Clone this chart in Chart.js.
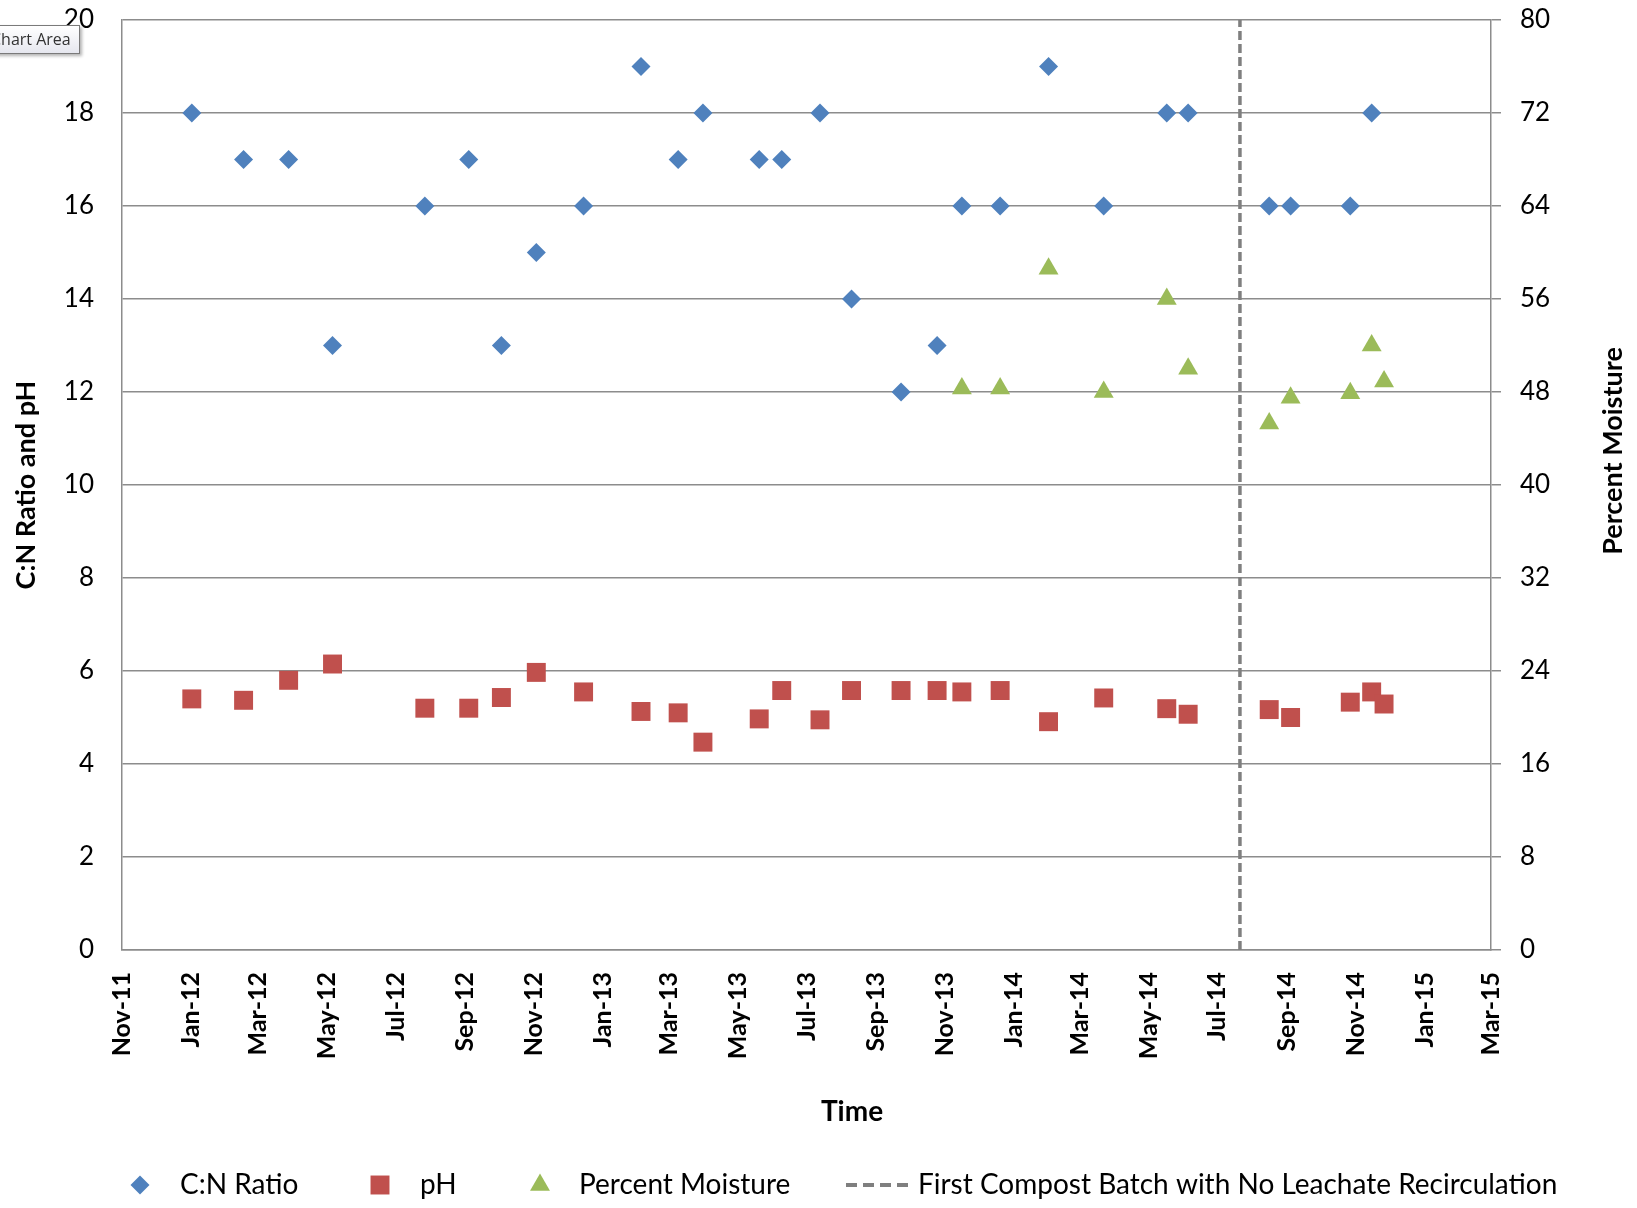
<!DOCTYPE html>
<html>
<head>
<meta charset="utf-8">
<script src="https://cdn.jsdelivr.net/npm/chart.js@4.4.1/dist/chart.umd.min.js"></script>
<style>
html,body{margin:0;padding:0;background:#fff;overflow:hidden}
#wrap{position:relative;width:1637px;height:1208px}
#tip{position:absolute;left:-18px;top:25px;padding:2px 8px 3px 8px;font:16px 'Open Sans',sans-serif;color:#333;
  background:linear-gradient(#ffffff,#e6e7ef);border:1px solid #7a7a7a;box-shadow:2px 2px 3px rgba(0,0,0,.3);white-space:nowrap}
</style>
</head>
<body>
<div id="wrap">
  <canvas id="chart" width="1637" height="1208"></canvas>
  <div id="tip">Chart Area</div>
</div>
<script>
// ---- data ----
const cnDates=['2012-01-02','2012-02-17','2012-03-28','2012-05-06','2012-07-27','2012-09-04','2012-10-03','2012-11-03','2012-12-15',
  '2013-02-04','2013-03-09','2013-03-31','2013-05-20','2013-06-09','2013-07-13','2013-08-10','2013-09-23','2013-10-25','2013-11-16','2013-12-20',
  '2014-02-01','2014-03-22','2014-05-17','2014-06-05','2014-08-16','2014-09-04','2014-10-27','2014-11-15'];
const cnValues=[18,17,17,13,16,17,13,15,16,19,17,18,17,17,18,14,12,13,16,16,19,16,18,18,16,16,16,18];

const phDates=[...cnDates,'2014-11-26'];
const phValues=[5.40,5.37,5.80,6.15,5.20,5.20,5.43,5.97,5.55,5.13,5.10,4.47,4.97,5.58,4.95,5.58,5.58,5.58,5.55,5.58,
  4.91,5.42,5.19,5.07,5.17,5.00,5.33,5.55,5.29];

const moistureDates=['2013-11-16','2013-12-20','2014-02-01','2014-03-22','2014-05-17','2014-06-05','2014-08-16','2014-09-04','2014-10-27','2014-11-15','2014-11-26'];
const moistureValues=[48.3,48.3,58.6,48.0,56.0,50.0,45.3,47.5,47.9,52.0,48.9];

const batchLineDate='2014-07-21';

const tickDates=['2011-11-01','2012-01-01','2012-03-01','2012-05-01','2012-07-01','2012-09-01','2012-11-01','2013-01-01','2013-03-01',
  '2013-05-01','2013-07-01','2013-09-01','2013-11-01','2014-01-01','2014-03-01','2014-05-01','2014-07-01','2014-09-01','2014-11-01','2015-01-01','2015-03-01'];
const tickLabels=['Nov-11','Jan-12','Mar-12','May-12','Jul-12','Sep-12','Nov-12','Jan-13','Mar-13','May-13','Jul-13','Sep-13',
  'Nov-13','Jan-14','Mar-14','May-14','Jul-14','Sep-14','Nov-14','Jan-15','Mar-15'];

const seriesNames=['C:N Ratio','pH','Percent Moisture','First Compost Batch with No Leachate Recirculation'];
const xTitle='Time', yTitle='C:N Ratio and pH', y2Title='Percent Moisture';

// ---- helpers ----
const ms=d=>Date.parse(d);
const pts=(dates,vals)=>dates.map((d,i)=>({x:ms(d),y:vals[i]}));
const BLUE='#4F81BD',RED='#C0504D',GREEN='#9BBB59',DASH='#7F7F7F',GRID='#8c8c8c';
const FONT='Lato, "Open Sans", sans-serif';

function marker(ctx,style,x,y,r,color){
  ctx.fillStyle=color;ctx.beginPath();
  if(style==='rectRot'){ctx.moveTo(x-r,y);ctx.lineTo(x,y-r);ctx.lineTo(x+r,y);ctx.lineTo(x,y+r);}
  else if(style==='rect'){const s=r*Math.SQRT1_2;ctx.rect(x-s,y-s,2*s,2*s);}
  else{const a=2*Math.PI/3;for(let k=0;k<3;k++){const t=k*a;ctx[k?'lineTo':'moveTo'](x+Math.sin(t)*r,y-Math.cos(t)*r);}}
  ctx.closePath();ctx.fill();
}

// titles + legend drawn on canvas
const extras={
  id:'extras',
  afterDraw(chart){
    const ctx=chart.ctx,a=chart.chartArea;
    ctx.save();
    ctx.fillStyle='#000';ctx.textBaseline='middle';ctx.textAlign='center';
    ctx.font='bold 27px '+FONT;
    ctx.save();ctx.translate(26,(a.top+a.bottom)/2);ctx.rotate(-Math.PI/2);ctx.fillText(yTitle,0,0);ctx.restore();
    ctx.save();ctx.translate(1613,451);ctx.rotate(-Math.PI/2);ctx.fillText(y2Title,0,0);ctx.restore();
    ctx.font='bold 28px '+FONT;
    ctx.fillText(xTitle,852,1112);

    // legend
    const ly=1185;
    ctx.font='28px '+FONT;ctx.textAlign='left';
    marker(ctx,'rectRot',140,ly,9.5,BLUE);
    ctx.fillStyle='#000';ctx.fillText(seriesNames[0],180,ly);
    marker(ctx,'rect',380,ly,13.4,RED);
    ctx.fillStyle='#000';ctx.fillText(seriesNames[1],420,ly);
    marker(ctx,'triangle',540,ly,11.5,GREEN);
    ctx.fillStyle='#000';ctx.fillText(seriesNames[2],579,ly);
    ctx.strokeStyle=DASH;ctx.lineWidth=4;ctx.setLineDash([11,6]);
    ctx.beginPath();ctx.moveTo(846,ly);ctx.lineTo(913,ly);ctx.stroke();ctx.setLineDash([]);
    ctx.fillStyle='#000';ctx.fillText(seriesNames[3],918,ly);
    ctx.restore();
  }
};

new Chart(document.getElementById('chart'),{
  data:{datasets:[
    {type:'scatter',label:seriesNames[0],data:pts(cnDates,cnValues),yAxisID:'y',pointStyle:'rectRot',pointRadius:9.5,pointBorderWidth:0,backgroundColor:BLUE,borderColor:BLUE},
    {type:'scatter',label:seriesNames[1],data:pts(phDates,phValues),yAxisID:'y',pointStyle:'rect',pointRadius:13.4,pointBorderWidth:0,backgroundColor:RED,borderColor:RED},
    {type:'scatter',label:seriesNames[2],data:pts(moistureDates,moistureValues),yAxisID:'y1',pointStyle:'triangle',pointRadius:11.5,pointBorderWidth:0,backgroundColor:GREEN,borderColor:GREEN},
    {type:'line',label:seriesNames[3],data:[{x:ms(batchLineDate),y:0},{x:ms(batchLineDate),y:20}],yAxisID:'y',borderColor:DASH,borderWidth:3.5,borderDash:[9,4],pointRadius:0,fill:false}
  ]},
  options:{
    responsive:false,animation:false,devicePixelRatio:1,
    layout:{padding:{top:20,left:0,right:0,bottom:0}},
    plugins:{legend:{display:false},tooltip:{enabled:false}},
    scales:{
      x:{type:'linear',min:ms(tickDates[0]),max:ms(tickDates[tickDates.length-1]),
        afterBuildTicks:s=>{s.ticks=tickDates.map(d=>({value:ms(d)}));},
        afterFit:s=>{s.height=258;s.paddingLeft=0;s.paddingRight=0;},
        grid:{display:false},border:{display:true,color:GRID,width:1.5},
        ticks:{autoSkip:false,maxRotation:90,minRotation:90,padding:14,color:'#000',font:{family:FONT,size:25,weight:'bold'},
          callback:(v,i)=>tickLabels[i]}},
      y:{position:'left',min:0,max:20,
        afterFit:s=>{s.width=122;s.paddingTop=0;s.paddingBottom=0;},
        grid:{color:GRID,lineWidth:1.5,drawTicks:false},border:{display:true,color:GRID,width:1.5},
        ticks:{stepSize:2,padding:28,color:'#000',font:{family:FONT,size:26}}},
      y1:{position:'right',min:0,max:80,
        afterFit:s=>{s.width=146;s.paddingTop=0;s.paddingBottom=0;},
        grid:{drawOnChartArea:false,drawTicks:true,tickLength:10,color:GRID,lineWidth:1.5},border:{display:true,color:GRID,width:1.5},
        ticks:{stepSize:8,padding:19,color:'#000',font:{family:FONT,size:26}}}
    }
  },
  plugins:[extras]
});
</script>
</body>
</html>
